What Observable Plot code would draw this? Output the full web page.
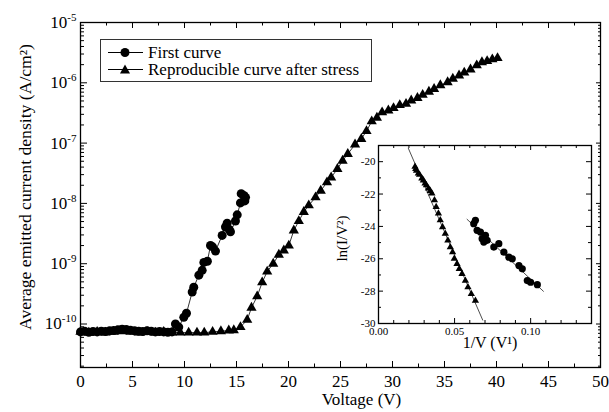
<!DOCTYPE html>
<html><head><meta charset="utf-8">
<script src="https://cdn.jsdelivr.net/npm/d3@7"></script>
<script src="https://cdn.jsdelivr.net/npm/@observablehq/plot@0.6"></script>
<style>
body{margin:0;background:#fff;}
#wrap{position:relative;width:609px;height:412px;font-family:'Liberation Serif',serif;overflow:hidden;}
#wrap svg{position:absolute;}
#legend{position:absolute;left:100px;top:39px;width:270px;height:41px;border:1px solid #333;background:#fff;font-size:17px;line-height:17px;}
#legend .row{position:absolute;left:6px;height:17px;display:flex;align-items:center;white-space:nowrap;}
#legend .row svg{position:static;margin-right:4px;}
</style></head>
<body><div id="wrap"></div>
<script>
// ---------- tick values / labels ----------
const xTicks = [0, 5, 10, 15, 20, 25, 30, 35, 40, 45, 50];
const yDecades = [1e-10, 1e-9, 1e-8, 1e-7, 1e-6, 1e-5];
const yExponents = ["-10", "-9", "-8", "-7", "-6", "-5"];
const insetXTicks = [0, 0.05, 0.10];
const insetYTicks = [-30, -28, -26, -24, -22, -20];

// ---------- "First curve" (circles) ----------
const firstV = [0.0,0.4,0.8,1.2,1.6,2.0,2.4,2.8,3.2,3.6,4.0,4.4,4.8,5.2,5.6,6.0,6.4,6.8,7.2,7.6,8.0,8.4,8.8,
  9.13,9.45,9.93,10.19,10.74,10.89,11.38,11.70,11.86,12.2,12.5,12.7,12.98,13.62,13.94,14.1,14.3,14.42,14.9,15.07,15.38,15.45,15.7,15.8,15.87];
const firstJ = [7.4e-11,7.6e-11,7.3e-11,7.5e-11,7.4e-11,7.6e-11,7.5e-11,7.7e-11,7.8e-11,8.0e-11,8.2e-11,8.1e-11,7.9e-11,7.7e-11,7.6e-11,7.5e-11,7.7e-11,7.6e-11,7.4e-11,7.5e-11,7.4e-11,7.3e-11,7.4e-11,
  1.0e-10,8.9e-11,1.29e-10,1.51e-10,3.39e-10,4.07e-10,6.46e-10,7.76e-10,1.05e-9,1.1e-9,2.0e-9,1.9e-9,1.62e-9,2.95e-9,4.07e-9,4.68e-9,3.7e-9,3.39e-9,5.1e-9,6.46e-9,1.02e-8,1.45e-8,1.35e-8,1.1e-8,1.26e-8];

// ---------- "Reproducible curve after stress" (triangles) ----------
const stressV = [0.0,0.8,1.6,2.4,3.2,4.0,4.8,5.6,6.4,7.2,8.0,8.8,9.6,10.4,11.2,11.9,12.7,13.5,14.26,14.74,15.38,16.03,16.44,16.99,17.47,17.95,18.53,19.07,19.55,20.03,20.51,20.99,21.47,21.95,22.6,23.1,23.7,24.1,24.7,25.2,25.7,26.4,27.0,27.5,28.0,28.5,29.0,29.6,30.1,30.7,31.3,31.8,32.4,32.9,33.5,34.0,34.6,35.3,35.8,36.4,36.9,37.5,38.1,38.6,39.1,39.6,40.1];
const stressJ = [7.4e-11,7.2e-11,7.4e-11,7.2e-11,7.4e-11,7.6e-11,7.4e-11,7.2e-11,7.4e-11,7.2e-11,7.4e-11,7.2e-11,7.2e-11,7.2e-11,7.2e-11,7.2e-11,7.4e-11,7.6e-11,7.8e-11,7.9e-11,8.9e-11,1.17e-10,1.86e-10,2.88e-10,4.9e-10,7.4e-10,1.0e-9,1.41e-9,1.66e-9,2.0e-9,3.55e-9,5.1e-9,7.2e-9,9.3e-9,1.26e-8,1.62e-8,2.24e-8,2.69e-8,3.72e-8,5.1e-8,6.6e-8,9.5e-8,1.17e-7,1.58e-7,2.29e-7,2.63e-7,3.24e-7,3.47e-7,3.8e-7,4.27e-7,4.47e-7,5.1e-7,5.6e-7,6.3e-7,7.1e-7,7.9e-7,9.1e-7,1.02e-6,1.17e-6,1.32e-6,1.48e-6,1.66e-6,1.95e-6,2.19e-6,2.29e-6,2.45e-6,2.57e-6];

// ---------- Inset: Fowler-Nordheim plot ----------
const insetStressX = [0.0240,0.0245,0.0250,0.0262,0.0270,0.0285,0.0295,0.0306,0.0315,0.0328,0.0340,0.0351,0.0368,0.0379,0.0394,0.0406,0.0421,0.0439,0.0456,0.0472,0.0487,0.0498,0.0516,0.0531,0.0549,0.0571,0.0588,0.0610,0.0637];
const insetStressY = [-20.31,-20.45,-20.55,-20.72,-20.80,-21.03,-21.15,-21.34,-21.45,-21.65,-21.80,-21.96,-22.38,-22.80,-23.20,-23.62,-24.04,-24.45,-24.86,-25.28,-25.59,-26.00,-26.31,-26.62,-26.93,-27.35,-27.76,-28.17,-28.59];
const insetFirstX = [0.0626,0.0637,0.0648,0.0670,0.0681,0.0692,0.0703,0.0714,0.0758,0.0791,0.0824,0.0857,0.0879,0.0923,0.0945,0.0978,0.1000,0.1044];
const insetFirstY = [-23.83,-23.62,-24.24,-24.35,-24.76,-24.97,-24.55,-24.86,-25.28,-25.07,-25.59,-25.90,-26.00,-26.42,-26.62,-27.35,-27.45,-27.60];
const fitStressX = [0.0196, 0.0685];
const fitStressY = [-19.17, -29.79];
const fitFirstX = [0.0582, 0.1084];
const fitFirstY = [-23.56, -28.01];

// ---------- build tables ----------
const first = firstV.map((v, i) => ({v, j: firstJ[i]}));
const stress = stressV.map((v, i) => ({v, j: stressJ[i]}));
const inStress = insetStressX.map((x, i) => ({x, y: insetStressY[i]}));
const inFirst = insetFirstX.map((x, i) => ({x, y: insetFirstY[i]}));
const fitS = fitStressX.map((x, i) => ({x, y: fitStressY[i]}));
const fitF = fitFirstX.map((x, i) => ({x, y: fitFirstY[i]}));

const font = "'Liberation Serif',serif";
const wrap = document.getElementById("wrap");

// ---------- main chart ----------
const W = 609, H = 412, mL = 80, mR = 9, mT = 22, mB = 45;
const fh = H - mT - mB, fw = W - mL - mR;
const yDomain = [1.9e-11, 1e-5];
const xMinor = d3.range(2.5, 50, 5);
const yMinor = [];
for (let k = -11; k <= -6; k++) for (let m = 2; m <= 9; m++) {
  const v = m * Math.pow(10, k);
  if (v >= yDomain[0] && v < yDomain[1]) yMinor.push(v);
}

const main = Plot.plot({
  width: W, height: H, marginLeft: mL, marginRight: mR, marginTop: mT, marginBottom: mB,
  style: {fontFamily: font, fontSize: "17px", background: "transparent", color: "black"},
  x: {domain: [0, 50]},
  y: {type: "log", domain: yDomain},
  marks: [
    Plot.axisX({ticks: xTicks, tickSize: 0, tickPadding: 7, label: null, tickFormat: d => String(d)}),
    Plot.axisY({ticks: yDecades, tickSize: 0, tickPadding: 4, label: null,
      tickFormat: d => "10|" + yExponents[yDecades.indexOf(d)]}),
    Plot.tickX(xTicks, {x: d => d, insetTop: fh - 6, stroke: "black"}),
    Plot.tickX(xMinor, {x: d => d, insetTop: fh - 3.5, stroke: "black"}),
    Plot.tickX(xTicks, {x: d => d, insetBottom: fh - 6, stroke: "black"}),
    Plot.tickX(xMinor, {x: d => d, insetBottom: fh - 3.5, stroke: "black"}),
    Plot.tickY(yDecades, {y: d => d, insetRight: fw - 7, stroke: "black"}),
    Plot.tickY(yMinor, {y: d => d, insetRight: fw - 4, stroke: "black"}),
    Plot.tickY(yDecades, {y: d => d, insetLeft: fw - 4, stroke: "black"}),
    Plot.tickY(yMinor, {y: d => d, insetLeft: fw - 2, stroke: "black"}),
    Plot.frame({stroke: "black", strokeWidth: 1.3}),
    Plot.line(first, {x: "v", y: "j", stroke: "black", strokeWidth: 0.8}),
    Plot.line(stress, {x: "v", y: "j", stroke: "black", strokeWidth: 0.8}),
    Plot.dot(first, {x: "v", y: "j", r: 4.5, fill: "black", symbol: "circle"}),
    Plot.dot(stress, {x: "v", y: "j", r: 3.8, fill: "black", symbol: "triangle"}),
    Plot.text(["Voltage (V)"], {text: d => d, frameAnchor: "bottom", dx: 21, dy: 37, fontSize: 17, textAnchor: "middle", fill: "black"}),
    Plot.text(["Average emitted current density (A/cm²)"], {text: d => d, frameAnchor: "left", rotate: -90, dx: -55, dy: -6, fontSize: 16, textAnchor: "middle", fill: "black"})
  ]
});
main.style.left = "0px"; main.style.top = "0px";
wrap.appendChild(main);

// superscript exponents for the y tick labels
main.querySelectorAll("text").forEach(t => {
  if (t.children.length === 0 && t.textContent.includes("|")) {
    const [base, exp] = t.textContent.split("|");
    t.textContent = base;
    const ts = document.createElementNS("http://www.w3.org/2000/svg", "tspan");
    ts.setAttribute("dy", "-7");
    ts.setAttribute("font-size", "11px");
    ts.textContent = exp;
    t.appendChild(ts);
  }
});

// fit the y title to the extent measured on the reference (top ~41, bottom ~333)
main.querySelectorAll("text").forEach(t => {
  if (t.textContent.startsWith("Average emitted")) {
    t.setAttribute("textLength", "286");
    t.setAttribute("lengthAdjust", "spacingAndGlyphs");
    const s = main.getBoundingClientRect();
    const r = t.getBoundingClientRect();
    const centre = (r.top + r.bottom) / 2 - s.top;
    const delta = 187 - centre;
    if (isFinite(delta) && Math.abs(delta) < 40 && r.height > 0) {
      t.setAttribute("transform", `translate(0,${delta.toFixed(1)}) ` + (t.getAttribute("transform") || ""));
    }
  }
});

// ---------- inset chart ----------
const iW = 270, iH = 222, iL = 48, iR = 9, iT = 7, iB = 37;
const ifh = iH - iT - iB, ifw = iW - iL - iR;
const iXMinor = d3.range(0.01, 0.1401, 0.01).filter(v => Math.abs(v / 0.05 - Math.round(v / 0.05)) > 1e-6);
const iYMinor = [-29, -27, -25, -23, -21, -19];
const inset = Plot.plot({
  width: iW, height: iH, marginLeft: iL, marginRight: iR, marginTop: iT, marginBottom: iB,
  style: {fontFamily: font, fontSize: "11px", background: "transparent", color: "black", overflow: "visible"},
  x: {domain: [0, 0.14]},
  y: {domain: [-30, -19]},
  marks: [
    Plot.axisX({ticks: insetXTicks, tickSize: 0, tickPadding: 4, label: null, tickFormat: d3.format(".2f")}),
    Plot.axisY({ticks: insetYTicks, tickSize: 0, tickPadding: 3, label: null, tickFormat: d => String(d)}),
    Plot.tickX(insetXTicks, {x: d => d, insetTop: ifh - 5, stroke: "black"}),
    Plot.tickX(iXMinor, {x: d => d, insetTop: ifh - 3, stroke: "black"}),
    Plot.tickX(insetXTicks, {x: d => d, insetBottom: ifh - 5, stroke: "black"}),
    Plot.tickX(iXMinor, {x: d => d, insetBottom: ifh - 3, stroke: "black"}),
    Plot.tickY(insetYTicks, {y: d => d, insetRight: ifw - 5, stroke: "black"}),
    Plot.tickY(iYMinor, {y: d => d, insetRight: ifw - 3, stroke: "black"}),
    Plot.tickY(insetYTicks, {y: d => d, insetLeft: ifw - 5, stroke: "black"}),
    Plot.tickY(iYMinor, {y: d => d, insetLeft: ifw - 3, stroke: "black"}),
    Plot.frame({stroke: "black", strokeWidth: 1.3}),
    Plot.line(fitS, {x: "x", y: "y", stroke: "black", strokeWidth: 0.7}),
    Plot.line(fitF, {x: "x", y: "y", stroke: "black", strokeWidth: 0.7}),
    Plot.dot(inStress, {x: "x", y: "y", r: 2.7, fill: "black", symbol: "triangle"}),
    Plot.dot(inFirst, {x: "x", y: "y", r: 3.6, fill: "black", symbol: "circle"}),
    Plot.text(["ln(I/V²)"], {text: d => d, frameAnchor: "left", rotate: -90, dx: -36, dy: 4, fontSize: 15, textAnchor: "middle", fill: "black"}),
    Plot.text(["1/V (V¹)"], {text: d => d, frameAnchor: "bottom", dx: 5, dy: 24, fontSize: 16, textAnchor: "middle", fill: "black"})
  ]
});
inset.style.left = "330px"; inset.style.top = "138px";
wrap.appendChild(inset);

// ---------- legend ----------
const legend = document.createElement("div");
legend.id = "legend";
const rows = [["circle", "First curve", 4], ["triangle", "Reproducible curve after stress", 21]];
rows.forEach(([sym, label, top]) => {
  const row = document.createElement("div");
  row.className = "row";
  row.style.top = top + "px";
  const shape = sym === "circle"
    ? '<circle cx="18" cy="8.5" r="4.5" fill="black"/>'
    : '<path d="M18,3.5 L23,12.5 L13,12.5 Z" fill="black"/>';
  row.innerHTML = '<svg width="37" height="17"><line x1="1" x2="36" y1="8.5" y2="8.5" stroke="black" stroke-width="1"/>' + shape + '</svg><span>' + label + '</span>';
  legend.appendChild(row);
});
wrap.appendChild(legend);
</script>
</body></html>
